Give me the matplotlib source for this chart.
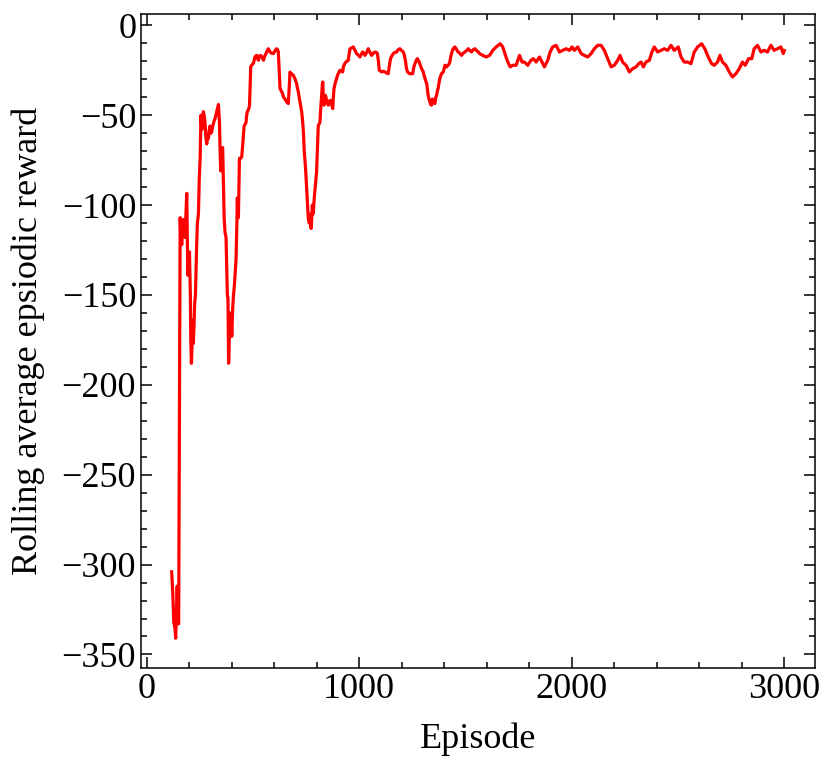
import matplotlib.pyplot as plt
from matplotlib.ticker import AutoMinorLocator

episodes = [
    117, 122, 127, 132, 136, 140, 143, 147, 150, 154, 157, 161, 165, 169, 172, 176, 180, 184, 188,
    193, 197, 201, 205, 207, 210, 213, 216, 219, 222, 225, 229, 234, 238, 243, 247, 251, 255, 259,
    263, 266, 270, 274, 278, 282, 286, 290, 294, 298, 302, 306, 310, 313, 317, 321, 325, 329, 333,
    337, 340, 342, 345, 348, 351, 353, 357, 360, 364, 368, 373, 376, 379, 382, 385, 388, 391, 394,
    397, 400, 404, 408, 412, 415, 420, 424, 426, 429, 431, 434, 436, 441, 447, 452, 458, 463, 467,
    470, 473, 478, 483, 486, 489, 495, 502, 506, 509, 513, 517, 521, 525, 530, 536, 543, 549, 555,
    561, 567, 572, 576, 580, 588, 596, 604, 611, 615, 619, 623, 627, 631, 635, 639, 643, 650, 658,
    662, 666, 670, 674, 678, 682, 686, 690, 694, 697, 701, 705, 709, 713, 717, 721, 725, 729, 733,
    737, 741, 745, 748, 752, 755, 758, 760, 764, 768, 771, 773, 776, 779, 782, 784, 788, 792, 796,
    799, 803, 807, 811, 815, 819, 823, 826, 828, 831, 834, 837, 840, 843, 846, 850, 854, 860, 865,
    870, 875, 878, 881, 887, 893, 897, 901, 905, 909, 915, 922, 925, 928, 933, 937, 942, 948, 952,
    956, 964, 972, 980, 987, 995, 1003, 1010, 1016, 1022, 1027, 1035, 1042, 1050, 1058, 1066, 1074,
    1080, 1085, 1090, 1094, 1100, 1105, 1113, 1121, 1128, 1136, 1142, 1147, 1153, 1160, 1168, 1176,
    1183, 1191, 1199, 1207, 1213, 1218, 1222, 1227, 1233, 1238, 1245, 1251, 1257, 1262, 1268, 1273,
    1278, 1282, 1288, 1293, 1297, 1301, 1305, 1309, 1313, 1317, 1321, 1324, 1328, 1332, 1336, 1340,
    1344, 1348, 1352, 1356, 1360, 1364, 1368, 1371, 1375, 1379, 1383, 1387, 1391, 1395, 1399, 1403,
    1407, 1411, 1414, 1418, 1422, 1426, 1430, 1434, 1438, 1442, 1446, 1450, 1458, 1465, 1473, 1481,
    1489, 1497, 1505, 1513, 1520, 1528, 1536, 1544, 1552, 1560, 1566, 1581, 1597, 1613, 1628, 1644,
    1663, 1675, 1688, 1699, 1710, 1722, 1738, 1754, 1766, 1777, 1793, 1808, 1819, 1832, 1848, 1860,
    1871, 1887, 1898, 1910, 1926, 1942, 1957, 1973, 1989, 2001, 2012, 2028, 2044, 2059, 2075, 2091,
    2106, 2122, 2138, 2153, 2169, 2185, 2200, 2216, 2227, 2239, 2255, 2271, 2286, 2302, 2315, 2326,
    2337, 2349, 2365, 2377, 2388, 2404, 2420, 2435, 2451, 2467, 2482, 2501, 2514, 2529, 2545, 2561,
    2576, 2592, 2611, 2626, 2642, 2658, 2670, 2686, 2697, 2709, 2725, 2741, 2756, 2772, 2788, 2803,
    2816, 2832, 2847, 2858, 2874, 2890, 2905, 2921, 2937, 2952, 2968, 2984, 2995, 3000,
]

reward = [
    -304, -315, -332, -335, -341, -325, -312, -330, -333, -200, -107, -120, -122, -110, -108, -115,
    -118, -105, -93.5, -139, -128, -126, -150, -175, -188, -178, -164, -177, -168, -155, -150, -125,
    -110, -105, -85, -74, -50, -58, -52, -48, -50, -54, -62, -66, -62, -63, -58, -56, -60, -59, -56,
    -55, -53, -52, -50, -48, -46, -44, -50, -54, -70, -81, -72, -70, -68, -85, -107, -115, -118, -135,
    -150, -152, -188, -175, -170, -160, -165, -173, -158, -150, -145, -139, -130, -110, -96, -105,
    -107, -85, -74, -74, -73, -65, -56, -55, -54, -50, -48, -47, -45, -35, -23, -22, -21, -19, -17.6,
    -17, -16.7, -18, -19.4, -17, -16.7, -18, -19.4, -17, -15.7, -14, -13, -14, -14.8, -15.5, -15.7,
    -14, -13, -13.5, -14.8, -25, -35.2, -36, -37, -38, -39.8, -41, -42.6, -43, -43.5, -35, -26, -27,
    -26.9, -27.5, -27.8, -29, -29.6, -31, -32.4, -35, -37, -40, -42.6, -45, -48.1, -53, -59.3, -70.4,
    -76, -81.5, -90, -96.3, -103, -107.4, -110, -109.3, -105, -113, -108, -100, -105, -103.7, -96,
    -90.7, -85, -81.5, -68, -55.6, -55, -53.7, -45, -38.9, -33, -31.5, -40, -44.4, -40, -38.9, -40,
    -41.7, -43, -44.4, -42, -41.7, -44, -46.3, -40, -35.2, -32, -29.6, -28, -26.9, -26, -25, -25.5,
    -25.9, -23, -22.2, -21, -20.4, -20, -19.4, -16, -13, -12.5, -12, -14, -15.7, -16.5, -17.6, -16,
    -14.8, -15.5, -16.7, -15, -13, -15, -16.7, -15.5, -14.8, -15, -15.7, -20, -25, -25.5, -25.9,
    -25.5, -25.9, -26.5, -26.9, -22, -18.5, -17, -15.7, -15, -14.8, -13.5, -13, -14, -14.8, -17,
    -20.4, -24, -25.9, -26.5, -26.9, -26.9, -26.9, -23, -21.3, -19.5, -18.5, -19.5, -20.4, -22.5,
    -24, -25, -25.9, -28, -29.6, -31, -32.4, -36, -38.9, -41, -42.6, -44, -44.4, -41, -41.7, -43,
    -43.5, -40, -38.9, -36, -35.2, -32, -29.6, -28, -26.9, -26.5, -25.9, -24, -22.2, -23, -23.1,
    -22.5, -22.2, -21.5, -20.4, -17.5, -15.7, -14, -13, -12.5, -12, -13.5, -14.8, -15.5, -16.7,
    -15.5, -14.8, -14, -13, -14, -14.8, -13.5, -13, -14, -14.8, -15.7, -16.7, -17.6, -16.7, -13.9,
    -12, -10.2, -12, -16.7, -20.4, -23.1, -22.2, -22.2, -16.7, -20.4, -20.4, -22.2, -19.4, -18.5,
    -20.4, -17.6, -20.4, -23.1, -19.4, -14.8, -12, -11.1, -14.8, -13.9, -13, -13.9, -12, -13.9,
    -12, -15.7, -16.7, -17.6, -15.7, -13, -11.1, -11.1, -13.9, -18.5, -23.1, -22.2, -19.4, -16.7,
    -20.4, -22.2, -25.9, -24.1, -23.1, -21.3, -20.4, -23.1, -20.4, -19.4, -14.8, -12, -14.8, -13.9,
    -13, -13.9, -11.1, -13.9, -12, -17.6, -20.4, -20.4, -21.3, -14.8, -12, -10.2, -13, -17.6, -21.3,
    -22.2, -20.4, -16.7, -20.4, -22.2, -25.9, -28.7, -26.9, -24.1, -20.4, -22.2, -18.5, -18.5, -13,
    -11.1, -14.8, -13.9, -14.8, -11.1, -13.9, -13, -12, -15.7, -14,
]

plt.rcParams['font.family'] = ['Liberation Serif', 'DejaVu Serif']
plt.rcParams['font.size'] = 26

fig = plt.figure(figsize=(8.32, 7.68), dpi=100)
ax = fig.add_axes([0.1695, 0.1302, 0.810, 0.8516])

ax.plot(episodes, reward, color='red', linewidth=2.3)

ax.set_xlabel('Episode', labelpad=12)
ax.set_ylabel('Rolling average epsiodic reward', labelpad=12)
ax.set_xticks([0, 1000, 2000, 3000])
ax.xaxis.set_minor_locator(AutoMinorLocator(5))
ax.yaxis.set_minor_locator(AutoMinorLocator(5))
ax.tick_params(which='both', direction='in', top=True, right=True, width=1.1)
ax.tick_params(which='major', length=8)
ax.tick_params(which='minor', length=4.5)
for s in ax.spines.values():
    s.set_linewidth(1.1)

fig.savefig('out.png', dpi=100)
